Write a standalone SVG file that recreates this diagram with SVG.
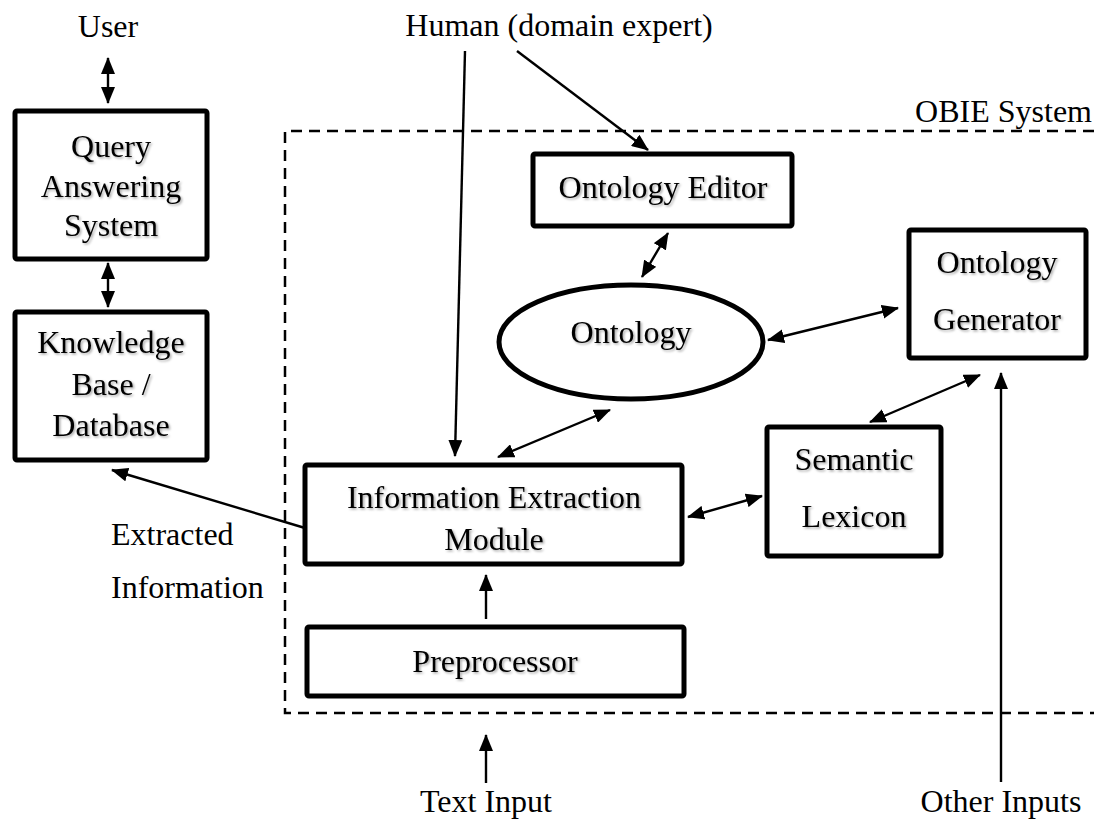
<svg xmlns="http://www.w3.org/2000/svg" width="1094" height="823" viewBox="0 0 1094 823">
<defs>
<style>
.box{fill:#fff;stroke:#000;stroke-width:5}
.t{font-family:"Liberation Serif","Times New Roman",serif;font-size:32px;fill:#000;text-anchor:middle}
.sh{filter:url(#shadow)}
.c{stroke:#000;stroke-width:2.4;fill:none}
.a1{marker-end:url(#ah)}
.a2{marker-start:url(#ah);marker-end:url(#ah)}
.dash{fill:none;stroke:#000;stroke-width:2.5;stroke-dasharray:11 7}
</style>
<marker id="ah" viewBox="0 0 17 14" refX="16" refY="7" markerWidth="17" markerHeight="14" markerUnits="userSpaceOnUse" orient="auto-start-reverse">
<path d="M0,0 L17,7 L0,14 z" fill="#000"/>
</marker>
<filter id="shadow" x="-10%" y="-20%" width="120%" height="140%">
<feDropShadow dx="1.5" dy="1.5" stdDeviation="1.2" flood-color="#000" flood-opacity="0.35"/>
</filter>
</defs>
<rect width="1094" height="823" fill="#fff"/>

<g id="obie-system">
<path class="dash" d="M1094,131 H285 V713 H1094"/>
<text class="t" x="1092" y="122" style="text-anchor:end">OBIE System</text>
</g>

<g id="user"><text class="t" x="108" y="37">User</text></g>
<g id="human"><text class="t" x="559" y="36">Human (domain expert)</text></g>
<g id="text-input"><text class="t" x="486" y="812">Text Input</text></g>
<g id="other-inputs"><text class="t" x="1001" y="812">Other Inputs</text></g>
<g id="extracted-label">
<text class="t" x="111" y="545" style="text-anchor:start">Extracted</text>
<text class="t" x="111" y="598" style="text-anchor:start">Information</text>
</g>

<g id="query-answering">
<rect class="box" x="15" y="111" width="192" height="148" rx="2"/>
<g class="sh"><text class="t" x="111" y="157">Query</text><text class="t" x="111" y="197">Answering</text><text class="t" x="111" y="236">System</text></g>
</g>
<g id="knowledge-base">
<rect class="box" x="15" y="312" width="192" height="148" rx="2"/>
<g class="sh"><text class="t" x="111" y="353">Knowledge</text><text class="t" x="111" y="395">Base /</text><text class="t" x="111" y="436">Database</text></g>
</g>
<g id="ontology-editor">
<rect class="box" x="533" y="154" width="259" height="72" rx="2"/>
<text class="t sh" x="663" y="198">Ontology Editor</text>
</g>
<g id="ontology">
<ellipse cx="631" cy="342" rx="132" ry="57" fill="#fff" stroke="#000" stroke-width="5"/>
<text class="t sh" x="631" y="343">Ontology</text>
</g>
<g id="ontology-generator">
<rect class="box" x="909" y="230" width="177" height="128" rx="2"/>
<g class="sh"><text class="t" x="997" y="273">Ontology</text><text class="t" x="997" y="330">Generator</text></g>
</g>
<g id="semantic-lexicon">
<rect class="box" x="767" y="427" width="174" height="129" rx="2"/>
<g class="sh"><text class="t" x="854" y="470">Semantic</text><text class="t" x="854" y="527">Lexicon</text></g>
</g>
<g id="information-extraction">
<rect class="box" x="305" y="465" width="377" height="99" rx="2"/>
<g class="sh"><text class="t" x="494" y="508">Information Extraction</text><text class="t" x="494" y="550">Module</text></g>
</g>
<g id="preprocessor">
<rect class="box" x="307" y="627" width="377" height="69" rx="2"/>
<text class="t sh" x="495" y="672">Preprocessor</text>
</g>

<g id="connectors">
<line class="c a2" x1="108" y1="58" x2="108" y2="103"/>
<line class="c a2" x1="108" y1="263" x2="108" y2="307"/>
<line class="c a1" x1="465" y1="51" x2="455" y2="456"/>
<line class="c a1" x1="517" y1="51" x2="648" y2="150"/>
<line class="c a2" x1="668" y1="233" x2="642" y2="277"/>
<line class="c a2" x1="768" y1="340" x2="898" y2="308"/>
<line class="c a2" x1="610" y1="410" x2="498" y2="457"/>
<line class="c a2" x1="980" y1="375" x2="870" y2="422"/>
<line class="c a2" x1="688" y1="517" x2="762" y2="496"/>
<line class="c a1" x1="486" y1="619" x2="486" y2="575"/>
<line class="c a1" x1="486" y1="783" x2="486" y2="735"/>
<line class="c a1" x1="1001" y1="782" x2="1001" y2="373"/>
<line class="c a1" x1="305" y1="528" x2="112" y2="470"/>
</g>
</svg>
